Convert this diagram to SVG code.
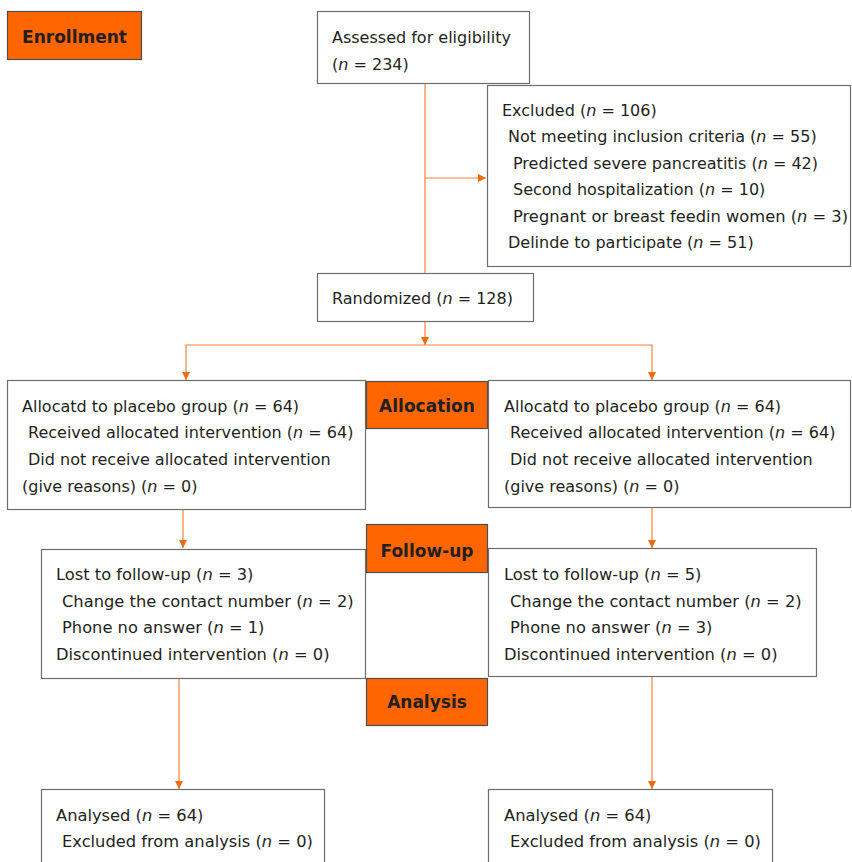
<svg xmlns="http://www.w3.org/2000/svg" width="852" height="862" viewBox="0 0 852 862">
<defs>
<style>
.box{fill:#fff;stroke:#6d6d6d;stroke-width:1.2}
.lab{fill:#ff6600;stroke:#4d4d4d;stroke-width:1.2}
text{font-family:"DejaVu Sans",Verdana,sans-serif;font-size:16px;fill:#231f20}
.b{font-weight:bold;text-anchor:middle;font-size:17px}
.i{font-style:italic}
.w{font-size:16.3px}
.c{fill:none;stroke:#f5843a;stroke-width:1.2}
</style>
<marker id="ah" viewBox="0 0 8 8" refX="8" refY="4" markerWidth="8" markerHeight="8" markerUnits="userSpaceOnUse" orient="auto">
<path d="M0,0 L8,4 L0,8 z" fill="#f26a10"/>
</marker>
</defs>
<rect width="852" height="862" fill="#fff"/>
<g id="connectors">
<path class="c" d="M425,84 V273"/>
<path class="c" d="M425,178 H486" marker-end="url(#ah)"/>
<path class="c" d="M425,322 V345" marker-end="url(#ah)"/>
<path class="c" d="M425,345 H186 V380" marker-end="url(#ah)"/>
<path class="c" d="M425,345 H652 V380" marker-end="url(#ah)"/>
<path class="c" d="M183,510 V548" marker-end="url(#ah)"/>
<path class="c" d="M652,508 V548" marker-end="url(#ah)"/>
<path class="c" d="M179,679 V789" marker-end="url(#ah)"/>
<path class="c" d="M652,677 V789" marker-end="url(#ah)"/>
</g>
<g id="enrollment">
<rect class="lab" x="7.5" y="11.5" width="134" height="48"/>
<text class="b" x="74.5" y="43">Enrollment</text>
</g>
<g id="assessed">
<rect class="box" x="317.5" y="11.5" width="212" height="72"/>
<text x="332" y="43">Assessed for eligibility</text>
<text x="332" y="70">(<tspan class="i">n</tspan> = 234)</text>
</g>
<g id="excluded">
<rect class="box" x="487.5" y="85.5" width="363" height="181"/>
<text x="502" y="116">Excluded (<tspan class="i">n</tspan> = 106)</text>
<text x="508" y="142">Not meeting inclusion criteria (<tspan class="i">n</tspan> = 55)</text>
<text x="513" y="169">Predicted severe pancreatitis (<tspan class="i">n</tspan> = 42)</text>
<text x="513" y="195">Second hospitalization (<tspan class="i">n</tspan> = 10)</text>
<text class="w" x="513" y="222">Pregnant or breast feedin women (<tspan class="i">n</tspan> = 3)</text>
<text x="508" y="248">Delinde to participate (<tspan class="i">n</tspan> = 51)</text>
</g>
<g id="randomized">
<rect class="box" x="317.5" y="273.5" width="216" height="48"/>
<text x="332" y="304">Randomized (<tspan class="i">n</tspan> = 128)</text>
</g>
<g id="alloc-left">
<rect class="box" x="7.5" y="380.5" width="358" height="129"/>
<text x="22" y="412">Allocatd to placebo group (<tspan class="i">n</tspan> = 64)</text>
<text x="28" y="438">Received allocated intervention (<tspan class="i">n</tspan> = 64)</text>
<text x="28" y="465">Did not receive allocated intervention</text>
<text x="22" y="492">(give reasons) (<tspan class="i">n</tspan> = 0)</text>
</g>
<g id="allocation">
<rect class="lab" x="366.5" y="381.5" width="121" height="47"/>
<text class="b" x="427" y="412">Allocation</text>
</g>
<g id="alloc-right">
<rect class="box" x="488.5" y="380.5" width="362" height="127"/>
<text x="504" y="412">Allocatd to placebo group (<tspan class="i">n</tspan> = 64)</text>
<text x="510" y="438">Received allocated intervention (<tspan class="i">n</tspan> = 64)</text>
<text x="510" y="465">Did not receive allocated intervention</text>
<text x="504" y="492">(give reasons) (<tspan class="i">n</tspan> = 0)</text>
</g>
<g id="followup">
<rect class="lab" x="366.5" y="524.5" width="121" height="48"/>
<text class="b" x="427" y="557">Follow-up</text>
</g>
<g id="follow-left">
<rect class="box" x="41.5" y="549.5" width="324" height="129"/>
<text class="w" x="56" y="580">Lost to follow-up (<tspan class="i">n</tspan> = 3)</text>
<text class="w" x="62" y="607">Change the contact number (<tspan class="i">n</tspan> = 2)</text>
<text class="w" x="62" y="633">Phone no answer (<tspan class="i">n</tspan> = 1)</text>
<text class="w" x="56" y="660">Discontinued intervention (<tspan class="i">n</tspan> = 0)</text>
</g>
<g id="follow-right">
<rect class="box" x="488.5" y="548.5" width="328" height="128"/>
<text class="w" x="504" y="580">Lost to follow-up (<tspan class="i">n</tspan> = 5)</text>
<text class="w" x="510" y="607">Change the contact number (<tspan class="i">n</tspan> = 2)</text>
<text class="w" x="510" y="633">Phone no answer (<tspan class="i">n</tspan> = 3)</text>
<text class="w" x="504" y="660">Discontinued intervention (<tspan class="i">n</tspan> = 0)</text>
</g>
<g id="analysis">
<rect class="lab" x="366.5" y="678.5" width="121" height="47"/>
<text class="b" x="427" y="708">Analysis</text>
</g>
<g id="analysed-left">
<rect class="box" x="41.5" y="789.5" width="283" height="80"/>
<text class="w" x="56" y="821">Analysed (<tspan class="i">n</tspan> = 64)</text>
<text class="w" x="62" y="847">Excluded from analysis (<tspan class="i">n</tspan> = 0)</text>
</g>
<g id="analysed-right">
<rect class="box" x="488.5" y="789.5" width="284" height="80"/>
<text class="w" x="504" y="821">Analysed (<tspan class="i">n</tspan> = 64)</text>
<text class="w" x="510" y="847">Excluded from analysis (<tspan class="i">n</tspan> = 0)</text>
</g>
</svg>
